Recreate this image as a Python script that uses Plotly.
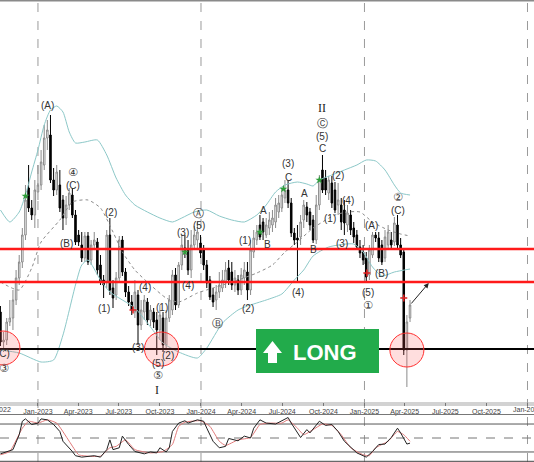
import pandas as pd
import plotly.graph_objects as go

W, H = 534, 462

# ---------------- data ----------------
week_start = "2022-10-09"
opens = [88, 58, 60, 78, 82, 100, 122, 138, 165, 212, 192, 185, 208, 215, 235, 262, 265, 220, 210, 215,
         200, 182, 195, 205, 185, 165, 155, 142, 164, 140, 155, 158, 135, 120, 118, 165, 112, 105, 122, 160,
         128, 108, 98, 88, 105, 75, 88, 98, 80, 88, 80, 70, 82, 55, 82, 90, 125, 95, 135, 152,
         150, 130, 155, 160, 157, 150, 135, 120, 105, 100, 108, 112, 118, 132, 128, 115, 120, 110, 122, 128,
         110, 148, 160, 175, 178, 165, 172, 175, 178, 188, 192, 202, 210, 197, 167, 162, 163, 180, 193, 188,
         180, 160, 195, 230, 222, 207, 217, 210, 195, 195, 190, 175, 185, 172, 165, 153, 148, 142, 125, 145,
         165, 162, 155, 142, 155, 160, 158, 175, 155, 148, 50, 82]
highs = [94, 68, 82, 100, 110, 130, 145, 172, 215, 235, 200, 220, 235, 250, 275, 280, 285, 232, 235, 230,
         205, 204, 212, 212, 190, 170, 168, 168, 168, 160, 168, 162, 145, 125, 170, 182, 120, 128, 164, 164,
         132, 114, 105, 120, 110, 100, 105, 102, 95, 92, 88, 95, 88, 90, 105, 130, 132, 138, 165, 165,
         160, 170, 174, 178, 165, 155, 140, 124, 112, 115, 128, 130, 138, 140, 138, 130, 125, 132, 138, 138,
         160, 170, 175, 185, 182, 182, 188, 190, 202, 205, 212, 220, 220, 202, 172, 175, 185, 200, 198, 192,
         185, 205, 225, 245, 230, 224, 224, 218, 217, 202, 200, 195, 190, 178, 170, 160, 155, 148, 155, 168,
         168, 168, 160, 170, 175, 168, 183, 185, 162, 152, 85, 100]
lows = [54, 48, 55, 74, 70, 95, 115, 132, 160, 188, 180, 172, 200, 210, 230, 250, 217, 204, 205, 188,
        170, 175, 190, 182, 155, 154, 138, 138, 135, 135, 150, 125, 115, 102, 112, 105, 92, 100, 118, 124,
        103, 94, 85, 82, 55, 70, 80, 75, 74, 72, 45, 60, 48, 50, 78, 85, 90, 92, 130, 142,
        125, 122, 150, 150, 142, 130, 112, 100, 93, 90, 102, 108, 112, 115, 110, 108, 105, 105, 115, 100,
        105, 142, 155, 160, 160, 162, 165, 168, 172, 182, 188, 197, 192, 163, 155, 117, 155, 172, 178, 170,
        157, 156, 190, 207, 205, 200, 192, 187, 185, 170, 165, 168, 165, 157, 150, 142, 135, 118, 120, 142,
        158, 138, 135, 138, 150, 150, 154, 150, 142, 45, 13, 78]
closes = [58, 60, 78, 82, 100, 122, 138, 165, 200, 192, 185, 210, 215, 238, 262, 270, 220, 210, 228, 192,
          182, 195, 207, 185, 158, 158, 142, 164, 138, 155, 160, 130, 118, 115, 165, 110, 102, 122, 160, 128,
          108, 98, 90, 108, 75, 90, 100, 80, 90, 78, 70, 85, 55, 82, 100, 125, 95, 135, 155, 148,
          130, 155, 165, 168, 147, 135, 117, 103, 98, 108, 115, 120, 130, 120, 115, 122, 110, 125, 130, 110,
          150, 162, 168, 163, 168, 175, 180, 182, 195, 197, 205, 210, 197, 167, 160, 160, 178, 195, 185, 175,
          160, 195, 220, 210, 210, 220, 197, 190, 200, 178, 177, 187, 170, 163, 153, 147, 140, 123, 150, 165,
          162, 142, 138, 163, 168, 155, 177, 155, 145, 50, 78, 95]

# Bollinger bands (read at week indices)
upper_idx = [0, 3, 6, 8, 10, 12, 14, 16, 18, 20, 22, 24, 27, 31, 34, 37, 40, 43, 47, 51, 55, 58, 62, 66, 70,
             74, 78, 82, 85, 88, 91, 95, 98, 100, 102, 106, 110, 114, 117, 120, 123, 126, 128, 131]
upper_val = [190, 178, 188, 205, 228, 250, 275, 290, 294, 288, 268, 257, 258, 260, 245, 222, 205, 195, 188, 182,
             178, 182, 188, 190, 184, 180, 178, 185, 195, 208, 215, 218, 216, 214, 220, 225, 230, 235, 240, 239,
             230, 215, 207, 205]
middle_idx = [0, 6, 10, 13, 19, 23, 28, 32, 36, 39, 43, 48, 53, 57, 63, 68, 76, 82, 87, 91, 95, 100, 107,
              111, 115, 119, 124, 128, 131]
middle_val = [118, 110, 132, 158, 180, 198, 200, 192, 168, 148, 130, 115, 102, 98, 107, 112, 120, 127, 135,
              148, 158, 172, 185, 188, 188, 178, 170, 166, 164]
lower_idx = [0, 6, 13, 17, 20, 24, 26, 28, 32, 35, 43, 48, 52, 57, 63, 66, 71, 76, 79, 85, 90, 94, 97, 100,
             105, 113, 116, 119, 122, 126, 131]
lower_val = [50, 47, 38, 40, 65, 115, 135, 140, 120, 108, 92, 73, 57, 48, 42, 52, 77, 90, 94, 100, 106, 120,
             130, 144, 153, 156, 148, 133, 124, 128, 131]

# Stochastic oscillator
stoch_k_idx = [0, 2, 4, 6, 7, 8, 10, 12, 13, 15, 17, 19, 20, 23, 24, 26, 28, 30, 32, 34, 35, 36, 38, 39, 41,
               43, 46, 48, 50, 51, 53, 54, 55, 57, 59, 60, 63, 65, 66, 68, 70, 72, 73, 76, 78, 80, 81, 83,
               85, 88, 92, 93, 96, 98, 99, 102, 104, 106, 108, 110, 114, 116, 117, 119, 121, 123, 125, 127,
               128, 130, 131]
stoch_k_val = [16, 21, 25, 57, 86, 91, 79, 82, 91, 89, 79, 64, 43, 21, 12, 9, 11, 12, 9, 25, 46, 25, 29, 54,
               36, 21, 16, 20, 18, 29, 20, 29, 64, 82, 87, 82, 89, 86, 71, 43, 29, 32, 49, 44, 54, 50, 71,
               89, 82, 80, 94, 82, 51, 68, 61, 86, 77, 79, 64, 43, 18, 11, 9, 21, 36, 37, 51, 71, 61, 37, 39]
stoch_d_idx = [0, 3, 7, 9, 12, 15, 18, 22, 25, 28, 32, 35, 37, 40, 43, 48, 52, 55, 57, 59, 64, 67, 70, 72,
               76, 80, 83, 86, 90, 92, 95, 97, 100, 103, 106, 109, 112, 116, 118, 120, 124, 127, 129, 131]
stoch_d_val = [14, 21, 71, 86, 82, 89, 82, 43, 14, 11, 11, 29, 32, 46, 25, 18, 21, 36, 75, 84, 87, 75, 43, 34,
               46, 51, 79, 82, 82, 89, 71, 57, 68, 80, 77, 57, 29, 14, 12, 29, 43, 64, 57, 43]
stoch_levels = [80, 20]
stoch_mid = 50

# Key price levels
red_levels = [151, 118]
black_levels = [51]

# Elliott wave labels
wave_text = ["(A)", "④", "(C)", "(B)", "(2)", "(1)", "(C)", "③", "(4)", "(1)", "(3)", "(5)", "(2)", "⑤", "I",
             "(3)", "(5)", "Ⓐ", "(4)", "Ⓑ", "(2)", "(1)", "A", "B", "(3)", "C", "(4)", "A", "B",
             "II", "Ⓒ", "(5)", "C", "(2)", "(1)", "(4)", "(3)", "(A)", "(B)", "(5)", "①", "②", "(C)"]
wave_idx = [14.9, 23.2, 23.2, 21, 35.3, 33.1, 0.8, 1.1, 46.2, 51.7, 44, 50.4, 53.6, 50.4, 50.1,
            58.4, 63.5, 63.2, 60, 69.3, 79.2, 78.2, 84, 85.3, 92, 92, 95.2, 97.1, 100,
            102.9, 102.9, 102.9, 102.9, 108, 105.4, 111.2, 109.2, 118.8, 122, 117.6, 117.6, 127.2, 127.2]
wave_price = [295, 228, 215, 157, 188, 92, 47, 32, 113, 93, 53, 37, 45, 25, 10,
              168, 175, 187, 115, 77, 92, 160, 190, 156, 237, 223, 108, 207, 151,
              292, 277, 264, 252, 225, 182, 200, 157, 175, 127, 108, 95, 203, 190]

green_idx = [8, 59, 83, 90.5, 102]
green_price = [204, 148, 168, 211, 220]
redmark_idx = [42.4, 117.2, 129]
redmark_price = [90, 127, 102]

circle_idx = [0.8, 51.5, 130]
circle_price = [52, 51, 50]

arrow_from = (131, 95)
arrow_to = (137, 117)

tick_dates = ["2023-01-01", "2023-04-01", "2023-07-01", "2023-10-01", "2024-01-01", "2024-04-01",
              "2024-07-01", "2024-10-01", "2025-01-01", "2025-04-01", "2025-07-01", "2025-10-01", "2026-01-01"]
tick_text = ["Jan-2023", "Apr-2023", "Jul-2023", "Oct-2023", "Jan-2024", "Apr-2024", "Jul-2024", "Oct-2024",
             "Jan-2025", "Apr-2025", "Jul-2025", "Oct-2025", "Jan-2026"]
year_lines = ["2023-01-01", "2024-01-01", "2025-01-01", "2026-01-01"]
edge_labels = [("2022-10-01", "Oct-2022"), ("2026-01-01", "Jan-2026")]

# ---------------- helpers ----------------
T0 = pd.Timestamp(week_start)


def wk(i):
    return (T0 + pd.Timedelta(days=7 * i)).isoformat()


def px(x):
    return x / W


def py(y):
    return 1 - y / H


weeks = [wk(i) for i in range(len(closes))]
x_range = ["2022-10-08", "2026-01-15 14:00"]
x0_ts, x1_ts = pd.Timestamp(x_range[0]), pd.Timestamp(x_range[1])


def date_to_paper(d):
    return (pd.Timestamp(d) - x0_ts) / (x1_ts - x0_ts)


fig = go.Figure()

band_color = "#8cc8c8"
fig.add_trace(go.Scatter(x=[wk(i) for i in upper_idx], y=upper_val, mode="lines",
                         line=dict(color=band_color, width=1, shape="spline", smoothing=0.6),
                         hoverinfo="skip"))
fig.add_trace(go.Scatter(x=[wk(i) for i in lower_idx], y=lower_val, mode="lines",
                         line=dict(color=band_color, width=1, shape="spline", smoothing=0.6),
                         hoverinfo="skip"))
fig.add_trace(go.Scatter(x=[wk(i) for i in middle_idx], y=middle_val, mode="lines",
                         line=dict(color="#8a8a8a", width=1, dash="dot", shape="spline", smoothing=0.6),
                         hoverinfo="skip"))

fig.add_trace(go.Candlestick(
    x=weeks, open=opens, high=highs, low=lows, close=closes,
    increasing=dict(line=dict(color="#8a8a8a", width=1), fillcolor="#ffffff"),
    decreasing=dict(line=dict(color="#000000", width=1), fillcolor="#000000"),
    whiskerwidth=0, hoverinfo="skip", xaxis="x", yaxis="y"))

fig.add_trace(go.Scatter(x=[wk(i) for i in green_idx], y=green_price, mode="markers",
                         marker=dict(symbol="star", size=6, color="#2e9e3a"), hoverinfo="skip"))
fig.add_trace(go.Scatter(x=[wk(i) for i in redmark_idx], y=redmark_price, mode="markers",
                         marker=dict(symbol="cross-thin", size=5, line=dict(color="#e02020", width=1.5)),
                         hoverinfo="skip"))

# stochastic
fig.add_trace(go.Scatter(x=[wk(i) for i in stoch_d_idx], y=stoch_d_val, mode="lines",
                         line=dict(color="#e07a7a", width=1, shape="spline", smoothing=0.4),
                         xaxis="x2", yaxis="y2", hoverinfo="skip"))
fig.add_trace(go.Scatter(x=[wk(i) for i in stoch_k_idx], y=stoch_k_val, mode="lines",
                         line=dict(color="#222222", width=1), xaxis="x2", yaxis="y2", hoverinfo="skip"))

shapes = []
# gray axis band
shapes.append(dict(type="rect", xref="paper", yref="paper", x0=0, x1=1, y0=py(406), y1=py(402),
                   fillcolor="#d2d2d2", line=dict(width=0), layer="below"))
# top border
shapes.append(dict(type="line", xref="paper", yref="paper", x0=0, x1=1, y0=py(0.7), y1=py(0.7),
                   line=dict(color="#8a8a8a", width=1.5)))
# year dashed lines
for d in year_lines:
    shapes.append(dict(type="line", xref="x", yref="paper", x0=d, x1=d, y0=0, y1=1,
                       line=dict(color="#9a9a9a", width=1, dash="dash"), layer="below"))
# stochastic panel borders and levels
shapes.append(dict(type="line", xref="paper", yref="paper", x0=0, x1=1, y0=py(414.5), y1=py(414.5),
                   line=dict(color="#777", width=1)))
shapes.append(dict(type="line", xref="paper", yref="paper", x0=0, x1=1, y0=py(461.3), y1=py(461.3),
                   line=dict(color="#444", width=1)))
for lv in stoch_levels:
    shapes.append(dict(type="line", xref="paper", yref="y2", x0=0, x1=1, y0=lv, y1=lv,
                       line=dict(color="#555", width=1), layer="below"))
shapes.append(dict(type="line", xref="paper", yref="y2", x0=0, x1=1, y0=stoch_mid, y1=stoch_mid,
                   line=dict(color="#777", width=1, dash="dash"), layer="below"))
# price levels
for lv in black_levels:
    shapes.append(dict(type="line", xref="paper", yref="y", x0=0, x1=1, y0=lv, y1=lv,
                       line=dict(color="#000000", width=2)))
for lv in red_levels:
    shapes.append(dict(type="line", xref="paper", yref="y", x0=0, x1=1, y0=lv, y1=lv,
                       line=dict(color="#ff1a1a", width=2.5)))
# circles
rdays = 17 / (163 / 365)
for ci, cp in zip(circle_idx, circle_price):
    c = T0 + pd.Timedelta(days=7 * ci)
    shapes.append(dict(type="circle", xref="x", yref="y",
                       x0=(c - pd.Timedelta(days=rdays)).isoformat(),
                       x1=(c + pd.Timedelta(days=rdays)).isoformat(),
                       y0=cp - 17, y1=cp + 17,
                       fillcolor="rgba(255,90,90,0.2)", line=dict(color="#ff3030", width=1)))
# LONG box
shapes.append(dict(type="rect", xref="paper", yref="paper", x0=px(256), x1=px(379), y0=py(373), y1=py(329),
                   fillcolor="#22ab4b", line=dict(width=0)))
arrow_pts = [(263, 353), (272.5, 341), (282, 353), (277, 353), (277, 363), (268, 363), (268, 353)]
path = "M " + " L ".join(f"{px(a):.5f},{py(b):.5f}" for a, b in arrow_pts) + " Z"
shapes.append(dict(type="path", xref="paper", yref="paper", path=path, fillcolor="#ffffff",
                   line=dict(width=0)))

annotations = []
circled = set("①②③④⑤ⒶⒷⒸ")
for t, i, p in zip(wave_text, wave_idx, wave_price):
    if t in circled:
        font = dict(family="DejaVu Sans", size=11, color="#333")
    elif t in ("I", "II"):
        font = dict(family="Liberation Serif", size=12, color="#222")
    else:
        font = dict(family="Liberation Sans", size=10, color="#333")
    annotations.append(dict(x=wk(i), y=p, xref="x", yref="y", text=t, showarrow=False, font=font,
                            xanchor="center", yanchor="middle"))

annotations.append(dict(x=px(325), y=py(352), xref="paper", yref="paper", text="<b>LONG</b>",
                        xanchor="center", yanchor="middle", showarrow=False,
                        font=dict(family="Liberation Sans", size=22, color="#ffffff")))
annotations.append(dict(x=wk(arrow_to[0]), y=arrow_to[1], ax=wk(arrow_from[0]), ay=arrow_from[1],
                        xref="x", yref="y", axref="x", ayref="y", text="", showarrow=True,
                        arrowhead=2, arrowsize=1, arrowwidth=1, arrowcolor="#222"))
for d, t in edge_labels:
    annotations.append(dict(x=date_to_paper(d), y=py(409.5), xref="paper", yref="paper", text=t,
                            showarrow=False, xanchor="center", yanchor="middle",
                            font=dict(family="Liberation Sans", size=7, color="#444")))

tick_text_shown = [("" if t in dict((b, a) for a, b in edge_labels) else t) for t in tick_text]

fig.update_layout(
    width=W, height=H, margin=dict(l=0, r=0, t=0, b=0, autoexpand=False),
    paper_bgcolor="white", plot_bgcolor="white", showlegend=False,
    xaxis=dict(domain=[0, 1], range=x_range, type="date", rangeslider=dict(visible=False),
               tickvals=tick_dates, ticktext=tick_text_shown, ticks="outside", ticklen=3, tickcolor="#777",
               tickfont=dict(family="Liberation Sans", size=7, color="#444"), automargin=False,
               showgrid=False, zeroline=False, showline=False, anchor="y"),
    yaxis=dict(domain=[py(402), 1], range=[-2, 400], showticklabels=False, showgrid=False,
               zeroline=False, ticks=""),
    xaxis2=dict(domain=[0, 1], range=x_range, type="date", anchor="y2", showticklabels=False,
                showgrid=False, zeroline=False, ticks=""),
    yaxis2=dict(domain=[py(461.3), py(414.7)], range=[0, 100], showticklabels=False, showgrid=False,
                zeroline=False, ticks=""),
    shapes=shapes, annotations=annotations,
)

fig.write_html("out.html", config={"displayModeBar": False},
               post_script="document.body.style.margin='0';document.body.style.overflow='hidden';")
